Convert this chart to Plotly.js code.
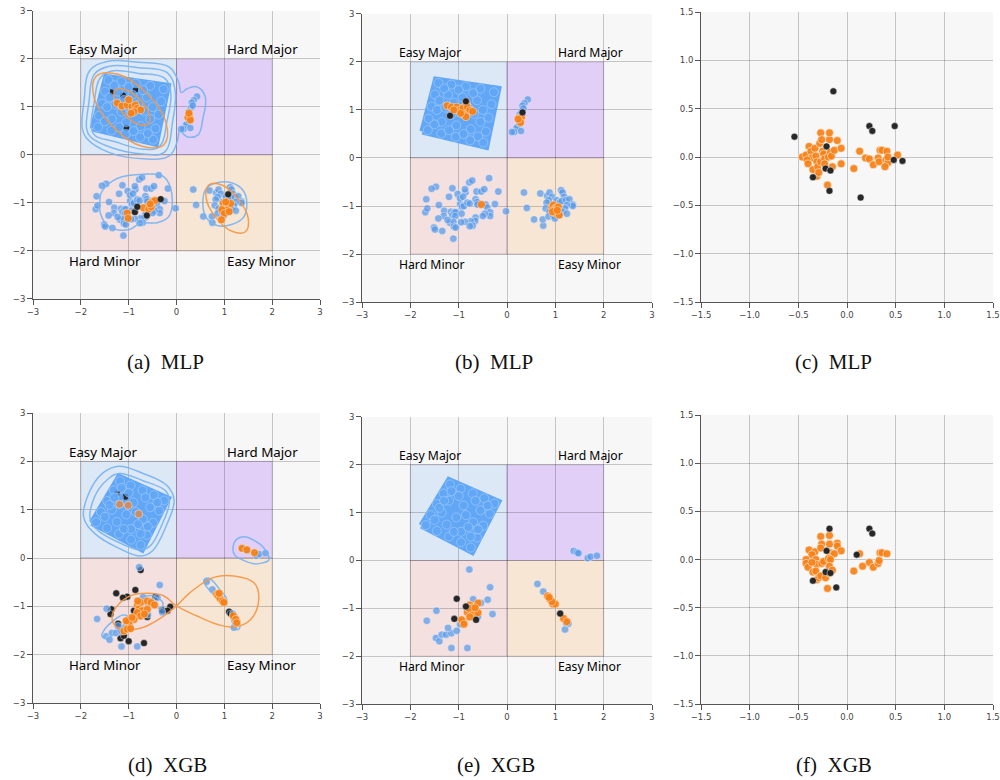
<!DOCTYPE html>
<html><head><meta charset="utf-8">
<script src="https://cdn.plot.ly/plotly-3.0.1.min.js"></script>
<style>html,body{margin:0;padding:0;background:#fff}#chart{width:1000px;height:780px}</style>
</head><body><div id="chart"></div>
<script>
// ---------------- quadrant regions ----------------
const QUAD_NAMES = ['Easy Major','Hard Major','Hard Minor','Easy Minor'];
const QUAD_X0 = [-2, 0, -2, 0];
const QUAD_X1 = [0, 2, 0, 2];
const QUAD_Y0 = [0, 0, -2, -2];
const QUAD_Y1 = [2, 2, 0, 0];
const QUAD_FILL = ['#dce8f6', '#e1cff7', '#f5e0e0', '#f7e6d4'];
const LABEL_X = [-2.28, 1.01, -2.28, 1.01];
const LABEL_Y = [2.2, 2.2, -2.21, -2.21];

// ---------------- panels (a)/(b): shared blue points ----------------
const abSquareX = [-1.75, -0.43, -0.18, -1.47, -1.75];
const abSquareY = [0.55, 0.23, 1.44, 1.63, 0.55];
const abBubbleX = [-1.64,-1.36,-1.06,-0.76,-0.49,-0.44,-0.38,-0.32,-0.27,-0.55,-0.85,-1.15,-1.42,-1.49,-1.56,-1.62,-1.35,-1.05,-0.75,-1.28,-0.98,-0.68,-1.22,-0.92,-0.62,-0.55,-1.45,-0.80,-1.15,-1.50,-1.20,-0.90,-0.60,-1.40,-1.10,-0.50,-1.30,-0.70,-1.00];
const abBubbleY = [0.58,0.51,0.44,0.37,0.32,0.55,0.84,1.12,1.37,1.44,1.49,1.53,1.56,1.32,1.07,0.82,0.75,0.68,0.60,1.05,0.98,0.92,1.32,1.26,1.20,0.75,1.00,1.05,0.90,0.70,0.58,0.50,0.45,1.20,1.15,1.00,1.45,1.35,1.42];
const abBlueX = [-1.47,-1.56,-1.67,-1.69,-1.65,-1.41,-1.30,-1.31,-1.42,-1.51,-1.49,-1.34,
  -1.20,-1.13,-1.02,-0.86,-0.87,-0.78,-0.72,-0.63,-0.53,-0.47,-0.37,-0.18,
  -1.16,-1.13,-1.09,-1.06,-0.97,-0.93,-0.89,-0.97,-0.91,-0.82,-0.77,-0.65,-0.62,-0.61,-0.44,-0.41,-0.25,-0.02,
  -0.35,-0.35,-0.46,-0.50,-0.65,-0.66,-0.75,-0.87,-0.95,-1.07,-1.18,-1.11,-1.10,-1.06,-1.11,-0.71,-0.77,-1.23,-0.94,
  0.35,0.41,0.56,0.69,0.75,0.74,0.83,0.88,0.93,0.86,0.82,0.80,0.88,0.86,0.96,0.99,0.96,1.03,1.09,1.12,1.15,1.18,1.13,1.22,1.29,1.36,1.36,1.24,1.20,1.15,1.24,1.09,1.03,
  0.43,0.36,0.32,0.30,0.26,0.23,0.20,0.15,0.10,0.29,0.26,0.34];
const abBlueY = [-0.60,-0.64,-0.86,-1.13,-1.05,-0.98,-1.10,-1.21,-1.26,-1.45,-1.49,-1.52,
  -0.81,-0.63,-0.75,-0.72,-0.65,-0.51,-0.47,-0.70,-0.70,-0.65,-0.42,-0.70,
  -1.12,-1.19,-1.13,-1.13,-0.96,-1.02,-1.00,-0.84,-0.81,-0.93,-0.95,-0.86,-0.92,-0.97,-0.97,-1.03,-0.96,-1.11,
  -1.13,-1.21,-1.16,-1.21,-1.24,-1.31,-1.32,-1.33,-1.34,-1.21,-1.35,-1.33,-1.43,-1.45,-1.68,-1.41,-1.42,-1.29,-1.16,
  -0.72,-1.04,-1.28,-0.74,-1.41,-1.28,-0.79,-0.72,-0.81,-0.88,-0.93,-1.05,-1.12,-1.22,-1.20,-1.26,-0.98,-0.88,-0.93,-0.67,-0.72,-0.81,-0.90,-0.88,-0.86,-0.97,-1.00,-0.98,-1.05,-1.12,-1.16,-1.19,-1.02,
  1.22,1.14,1.09,0.98,0.90,0.65,0.63,0.54,0.54,0.56,0.72,1.03];

// (a) MLP
const aOrangeX = [-1.24,-1.14,-1.03,-0.93,-0.86,-0.82,-0.75,-0.89,-0.95,-1.00, 0.27,0.24,0.29,0.26,
  -1.03,-1.01,-0.69,-0.58,-0.53,-0.50,-0.45,-0.55, 0.98,1.03,1.08,1.13,1.05,0.95,1.00,0.94,1.10,1.03];
const aOrangeY = [1.08,1.02,1.04,1.01,1.04,0.97,0.94,0.90,0.87,1.15, 0.83,0.78,0.73,0.87,
  -1.21,-1.32,-1.10,-1.13,-1.08,-0.97,-0.95,-1.02, -1.01,-1.08,-1.03,-1.01,-1.15,-1.14,-1.22,-1.35,-1.18,-0.98];
const aBlackX = [-0.87,-0.82,-0.62,-0.33,1.08];
const aBlackY = [-1.19,-1.08,-1.26,-0.92,-0.82];
const aBlackSmallX = [-1.12,-1.05,-0.86,-1.34];
const aBlackSmallY = [1.24,0.57,1.36,1.31];
// (a) density contours
const aBlue1X = [-1.78,-1.72,-1.60,-1.35,-0.80,-0.25,-0.12,-0.20,-0.35,-0.70,-1.30,-1.70,-1.78];
const aBlue1Y = [0.55,1.10,1.60,1.75,1.70,1.60,1.30,0.70,0.18,0.12,0.28,0.40,0.55];
const aBlue2X = [-1.88,-1.83,-1.72,-1.40,-0.80,-0.20,-0.03,-0.08,-0.25,-0.70,-1.35,-1.80,-1.88];
const aBlue2Y = [0.55,1.10,1.68,1.85,1.82,1.72,1.35,0.70,0.06,0.02,0.15,0.38,0.55];
const aBlue3X = [-1.97,-1.93,-1.82,-1.45,-0.80,-0.15,0.05,0.10,0.22,0.42,0.60,0.55,0.45,0.22,0.07,0.02,-0.15,-0.70,-1.40,-1.88,-1.97];
const aBlue3Y = [0.55,1.15,1.75,1.95,1.93,1.83,1.50,1.30,1.38,1.42,1.22,0.75,0.42,0.38,0.50,0.30,-0.02,-0.08,0.05,0.35,0.55];
const aBlue4X = [-1.56,-1.24,-0.68,-0.27,-0.10,-0.16,-0.40,-0.75,-1.00,-1.42,-1.59,-1.60,-1.56];
const aBlue4Y = [-0.76,-0.49,-0.40,-0.45,-0.80,-1.28,-1.41,-1.42,-1.56,-1.49,-1.22,-0.94,-0.76];
const aBlue5X = [0.55,0.62,0.85,1.15,1.40,1.47,1.40,1.15,0.85,0.62,0.55];
const aBlue5Y = [-1.00,-0.70,-0.58,-0.58,-0.75,-1.00,-1.30,-1.45,-1.47,-1.30,-1.00];
const aOrange1X = [-0.26,-0.22,-0.62,-1.22,-1.68,-1.72,-1.32,-0.72,-0.26];
const aOrange1Y = [0.22,0.68,1.28,1.68,1.64,1.18,0.58,0.18,0.22];
const aOrange2X = [-0.58,-0.57,-0.77,-1.07,-1.28,-1.29,-1.09,-0.79,-0.58];
const aOrange2Y = [0.65,0.86,1.16,1.36,1.35,1.14,0.84,0.64,0.65];
const aOrange3X = [1.44,1.50,1.30,0.96,0.68,0.62,0.82,1.16,1.44];
const aOrange3Y = [-1.60,-1.32,-0.93,-0.63,-0.62,-0.90,-1.30,-1.59,-1.60];

// (b) MLP
const bOrangeX = [-1.24,-1.15,-1.04,-0.97,-0.91,-0.84,-0.82,-0.77,-0.71,-0.89,-0.85,-0.96,-1.10,
  0.26,0.30,0.28,0.23, -0.53, 0.93,0.96,1.00,1.03,1.06,0.97,1.01,1.08,0.94,1.04];
const bOrangeY = [1.09,1.06,1.06,1.00,1.04,1.14,1.06,0.99,0.97,0.90,0.86,0.93,1.00,
  0.84,0.85,0.74,0.81, -0.97, -1.02,-0.98,-1.05,-1.04,-1.02,-1.12,-1.15,-1.19,-1.12,-1.09];
const bBlackX = [-1.18,-0.85,0.32];
const bBlackY = [0.88,1.18,0.95];

// (c) MLP
const cBlackX = [-0.14,-0.54,0.23,0.26,0.49,0.48,0.57,-0.35,-0.22,-0.17,-0.18,0.14,-0.21];
const cBlackY = [0.68,0.21,0.32,0.27,0.32,-0.03,-0.04,-0.21,-0.12,-0.14,-0.35,-0.42,0.11];
const cOrangeX = [-0.46,-0.42,-0.39,-0.37,-0.36,-0.41,-0.40,-0.35,-0.33,-0.32,-0.31,-0.30,-0.31,-0.29,-0.28,-0.27,-0.26,-0.25,-0.27,-0.24,-0.23,-0.23,-0.19,-0.18,-0.18,-0.17,-0.16,-0.15,-0.13,-0.10,-0.06,-0.06,-0.20,
  0.07,0.13,0.19,0.23,0.27,0.32,0.33,0.34,0.36,0.41,0.40,0.42,0.42,0.39,0.52];
const cOrangeY = [0.00,0.02,0.11,0.06,-0.01,-0.03,-0.07,-0.13,0.09,0.01,-0.05,-0.10,-0.20,-0.16,0.14,0.25,0.18,0.06,-0.05,0.03,-0.02,-0.07,0.00,0.18,0.25,0.05,0.01,-0.10,0.07,0.17,0.09,-0.07,-0.29,
  -0.12,0.06,-0.01,-0.02,-0.08,-0.01,-0.05,0.07,0.07,0.06,-0.03,-0.06,0.00,-0.10,0.02];

// ---------------- panels (d)/(e): shared blue points ----------------
const deSquareX = [-1.77, -0.72, -0.18, -1.20, -1.77];
const deSquareY = [0.73, 0.18, 1.23, 1.68, 0.73];
const deBubbleX = [-1.68,-1.45,-1.20,-0.95,-0.75,-0.62,-0.49,-0.36,-0.26,-0.47,-0.71,-0.96,-1.18,-1.31,-1.45,-1.58,-1.25,-0.95,-0.75,-1.35,-1.05,-0.70,-1.20,-0.90,-0.55,-1.00,-1.10,-0.85,-1.50,-1.40,-0.40,-0.60,-1.15,-0.80,-1.30,-0.65];
const deBubbleY = [0.74,0.62,0.50,0.38,0.27,0.48,0.73,0.98,1.19,1.30,1.40,1.50,1.59,1.40,1.18,0.95,0.75,0.60,0.50,1.00,0.90,0.80,1.25,1.15,1.05,1.35,0.60,0.95,0.85,1.10,1.15,0.65,1.45,0.70,1.25,1.25];
const deBlueX = [-0.78,-0.35,-0.40,-0.54,-0.70,-0.30,-1.46,-1.66,-1.47,-1.40,-1.35,-1.26,-1.15,-1.22,-1.04,-1.15,-0.82,-0.97,-0.60,
  0.63,0.75,1.20,1.27,1.22, 1.38,1.45,1.48,1.67,1.73,1.86];
const deBlueY = [-0.19,-0.56,-0.82,-0.89,-0.81,-1.12,-1.05,-1.26,-1.62,-1.69,-1.55,-1.55,-1.52,-1.41,-1.47,-1.83,-1.83,-1.33,-1.17,
  -0.49,-0.65,-1.44,-1.32,-1.30, 0.20,0.17,0.15,0.05,0.08,0.10];

// (d) XGB
const dOrangeFadedX = [-1.19,-1.01,-0.79];
const dOrangeFadedY = [1.11,1.09,0.91];
const dOrangeX = [1.37,1.47,1.63,
  -0.82,-0.75,-0.61,-0.53,-0.46,-0.79,-0.72,-0.61,-0.82,-0.75,-0.67,-0.89,-1.00,-1.05,-1.10,-1.03,-0.96,-0.93,-0.81,
  0.84,0.87,0.91,0.96,0.99,0.89,1.19,1.24,1.26];
const dOrangeY = [0.20,0.17,0.11,
  -0.97,-0.92,-0.89,-0.92,-0.97,-1.06,-1.09,-1.06,-1.13,-1.20,-1.16,-1.27,-1.34,-1.30,-1.51,-1.47,-1.46,-1.23,-0.89,
  -0.75,-0.78,-0.83,-0.89,-0.92,-0.73,-1.20,-1.27,-1.34];
const dBlackX = [-0.75,-0.86,-1.26,-1.03,-1.12,-1.36,-1.38,-1.22,-1.17,-1.00,-0.68,-0.44,-0.30,-0.13,-0.61,-0.89,-0.19,-1.10,-1.07, 1.10,1.13];
const dBlackY = [-0.25,-0.66,-0.73,-0.80,-0.82,-1.06,-1.16,-1.36,-1.66,-1.72,-1.76,-0.80,-1.08,-1.01,-1.22,-1.09,-1.09,-1.61,-1.47, -1.11,-1.15];
const dBlackSmallX = [-1.24,-1.07];
const dBlackSmallY = [1.34,1.27];
// (d) density contours
const dBlue1X = [-1.94,-1.85,-1.55,-1.21,-0.70,-0.20,-0.05,-0.20,-0.50,-0.75,-1.20,-1.70,-1.94];
const dBlue1Y = [0.84,1.30,1.75,1.90,1.75,1.50,1.20,0.70,0.15,0.04,0.20,0.50,0.84];
const dBlue2X = [-1.80,-1.72,-1.45,-1.20,-0.70,-0.22,-0.15,-0.30,-0.55,-0.75,-1.20,-1.62,-1.80];
const dBlue2Y = [0.78,1.25,1.62,1.75,1.60,1.38,1.15,0.70,0.25,0.17,0.32,0.55,0.78];
const dBlue3X = [1.18,1.25,1.41,1.65,1.85,1.93,1.80,1.62,1.40,1.22,1.18];
const dBlue3Y = [0.19,0.38,0.44,0.35,0.18,-0.04,-0.10,-0.12,-0.05,0.06,0.19];
const dBlue4X = [-1.56,-1.52,-1.35,-1.12,-1.03,-1.06,-1.25,-1.45,-1.56];
const dBlue4Y = [-1.62,-1.50,-1.32,-1.18,-1.20,-1.32,-1.52,-1.66,-1.62];
const dBlue5X = [-0.72,-0.60,-0.40,-0.28,-0.32,-0.50,-0.68,-0.72];
const dBlue5Y = [-0.85,-0.78,-0.82,-0.95,-1.03,-1.00,-0.95,-0.85];
const dBlue6X = [0.58,0.68,0.88,1.05,1.03,0.92,0.72,0.60,0.58];
const dBlue6Y = [-0.45,-0.42,-0.62,-0.85,-0.95,-0.90,-0.70,-0.55,-0.45];
const dBlue7X = [1.12,1.20,1.30,1.32,1.25,1.18,1.12];
const dBlue7Y = [-1.12,-1.10,-1.30,-1.45,-1.48,-1.35,-1.12];
const dOrange1X = [0.00,0.29,0.78,1.20,1.62,1.72,1.55,1.20,0.85,0.43,0.00,-0.27,-0.61,-0.96,-1.24,-1.35,-1.24,-1.03,-0.61,-0.27,0.00];
const dOrange1Y = [-0.99,-0.71,-0.40,-0.37,-0.51,-0.85,-1.27,-1.43,-1.37,-1.20,-0.99,-0.78,-0.73,-0.78,-0.99,-1.23,-1.44,-1.49,-1.40,-1.20,-0.99];

// (e) XGB
const eOrangeX = [-0.77,-0.74,-0.82,-0.70,-0.60,-0.60,-0.77,-0.91,-0.94,-0.89,-0.79,-0.66, 0.84,0.89,0.95,1.00,0.93,1.17,1.24,0.87];
const eOrangeY = [-0.93,-0.99,-1.08,-1.12,-1.09,-0.89,-1.18,-1.28,-1.24,-1.33,-1.00,-0.99, -0.74,-0.81,-0.91,-0.91,-0.86,-1.21,-1.28,-0.77];
const eBlackX = [-1.04,-1.09,-0.85,-0.64,1.10];
const eBlackY = [-0.80,-1.22,-0.96,-1.24,-1.11];

// (f) XGB
const fBlackX = [-0.18,0.23,0.26,-0.21,0.10,-0.35,-0.22,-0.17,-0.11];
const fBlackY = [0.32,0.32,0.27,0.09,0.05,-0.22,-0.13,-0.14,-0.29];
const fOrangeX = [-0.27,-0.18,-0.26,-0.18,-0.10,-0.10,-0.06,-0.39,-0.33,-0.36,-0.27,-0.17,-0.13,-0.42,-0.42,-0.40,-0.32,-0.31,-0.26,-0.24,-0.19,-0.17,-0.18,-0.35,-0.32,-0.31,-0.29,-0.27,-0.22,-0.18,-0.15,-0.20,-0.36,
  0.07,0.13,0.16,0.23,0.27,0.32,0.33,0.34,0.36,0.41];
const fOrangeY = [0.24,0.25,0.16,0.16,0.17,0.14,0.09,0.10,0.08,0.05,0.12,0.07,0.06,0.00,-0.04,-0.08,0.00,-0.05,-0.04,-0.02,0.01,0.00,-0.07,-0.13,-0.12,-0.21,-0.19,-0.17,-0.19,-0.14,-0.11,-0.30,-0.03,
  -0.12,0.06,-0.07,-0.03,-0.08,-0.04,-0.01,0.07,0.07,0.06];

const CAPTIONS = ['(a)\u00a0\u00a0MLP','(b)\u00a0\u00a0MLP','(c)\u00a0\u00a0MLP','(d)\u00a0\u00a0XGB','(e)\u00a0\u00a0XGB','(f)\u00a0\u00a0XGB'];

// ---------------- styles ----------------
const BLUE = 'rgba(88,152,232,0.72)';
const SQ_BLUE = 'rgb(98,167,246)';
const ORANGE = 'rgba(246,128,22,0.92)';
const BLACK = 'rgba(28,28,28,0.95)';
const C_BLUE = 'rgba(120,178,240,0.9)';
const C_ORANGE = 'rgba(244,150,66,0.9)';

const PANELS = [
  {n:1, xd:[0.033,0.320], yd:[0.6167,0.9859], lim:3, quad:true, lab:13.3},
  {n:2, xd:[0.362,0.652], yd:[0.6128,0.9821], lim:3, quad:true, lab:12.2},
  {n:3, xd:[0.701,0.993], yd:[0.6128,0.9846], lim:1.5, quad:false},
  {n:4, xd:[0.033,0.320], yd:[0.0987,0.4705], lim:3, quad:true, lab:13.3},
  {n:5, xd:[0.362,0.652], yd:[0.0974,0.4654], lim:3, quad:true, lab:12.2},
  {n:6, xd:[0.701,0.993], yd:[0.0974,0.4679], lim:1.5, quad:false}
];
const CAP_X = [0.165, 0.494, 0.833, 0.167, 0.496, 0.834];
const CAP_Y = [0.536, 0.536, 0.536, 0.019, 0.019, 0.019];

const traces = [];
function ax(n){ return n === 1 ? ['x','y'] : ['x'+n, 'y'+n]; }
function pts(n, xs, ys, color, size, lw, lc){
  const a = ax(n);
  traces.push({type:'scatter', mode:'markers', x:xs, y:ys, xaxis:a[0], yaxis:a[1], hoverinfo:'skip',
    marker:{color:color, size:size, line:{color:lc || 'rgba(255,255,255,0.85)', width:lw}}});
}
function poly(n, xs, ys, color){
  const a = ax(n);
  traces.push({type:'scatter', mode:'lines', x:xs, y:ys, xaxis:a[0], yaxis:a[1], hoverinfo:'skip',
    fill:'toself', fillcolor:color, line:{color:color, width:6}});
}
function curve(n, xs, ys, color){
  const a = ax(n);
  traces.push({type:'scatter', mode:'lines', x:xs, y:ys, xaxis:a[0], yaxis:a[1], hoverinfo:'skip',
    line:{color:color, width:1.5, shape:'spline', smoothing:1.1}});
}
const BUB_LINE = 'rgba(225,238,255,0.55)';

// (a)
poly(1, abSquareX, abSquareY, SQ_BLUE);
pts(1, aBlackSmallX, aBlackSmallY, BLACK, 6, 0);
pts(1, abBubbleX, abBubbleY, 'rgba(98,167,246,0.75)', 9, 0.6, BUB_LINE);
pts(1, abBlueX, abBlueY, BLUE, 7.5, 0.5);
curve(1, aBlue1X, aBlue1Y, C_BLUE);
curve(1, aBlue2X, aBlue2Y, C_BLUE);
curve(1, aBlue3X, aBlue3Y, C_BLUE);
curve(1, aBlue4X, aBlue4Y, C_BLUE);
curve(1, aBlue5X, aBlue5Y, C_BLUE);
curve(1, aOrange1X, aOrange1Y, C_ORANGE);
curve(1, aOrange2X, aOrange2Y, C_ORANGE);
curve(1, aOrange3X, aOrange3Y, C_ORANGE);
pts(1, aOrangeX, aOrangeY, ORANGE, 8, 0.5);
pts(1, aBlackX, aBlackY, BLACK, 7, 0.5);
// (b)
poly(2, abSquareX, abSquareY, SQ_BLUE);
pts(2, abBubbleX, abBubbleY, 'rgba(98,167,246,0.75)', 9, 0.6, BUB_LINE);
pts(2, abBlueX, abBlueY, BLUE, 7.5, 0.5);
pts(2, bOrangeX, bOrangeY, ORANGE, 8, 0.5);
pts(2, bBlackX, bBlackY, BLACK, 7, 0.5);
// (c)
pts(3, cOrangeX, cOrangeY, ORANGE, 8, 0.6);
pts(3, cBlackX, cBlackY, BLACK, 7, 0.6);
// (d)
poly(4, deSquareX, deSquareY, SQ_BLUE);
pts(4, dBlackSmallX, dBlackSmallY, BLACK, 6, 0);
pts(4, deBubbleX, deBubbleY, 'rgba(98,167,246,0.75)', 9, 0.6, BUB_LINE);
pts(4, dOrangeFadedX, dOrangeFadedY, 'rgba(205,140,95,0.95)', 8, 0.5);
curve(4, dBlue1X, dBlue1Y, C_BLUE);
curve(4, dBlue2X, dBlue2Y, C_BLUE);
pts(4, dBlackX, dBlackY, BLACK, 7, 0.5);
pts(4, deBlueX, deBlueY, BLUE, 7.5, 0.5);
curve(4, dBlue3X, dBlue3Y, C_BLUE);
curve(4, dBlue4X, dBlue4Y, C_BLUE);
curve(4, dBlue5X, dBlue5Y, C_BLUE);
curve(4, dBlue6X, dBlue6Y, C_BLUE);
curve(4, dBlue7X, dBlue7Y, C_BLUE);
curve(4, dOrange1X, dOrange1Y, C_ORANGE);
pts(4, dOrangeX, dOrangeY, ORANGE, 8, 0.5);
// (e)
poly(5, deSquareX, deSquareY, SQ_BLUE);
pts(5, deBubbleX, deBubbleY, 'rgba(98,167,246,0.75)', 9, 0.6, BUB_LINE);
pts(5, deBlueX, deBlueY, BLUE, 7.5, 0.5);
pts(5, eOrangeX, eOrangeY, ORANGE, 8, 0.5);
pts(5, eBlackX, eBlackY, BLACK, 7, 0.5);
// (f)
pts(6, fOrangeX, fOrangeY, ORANGE, 8, 0.6);
pts(6, fBlackX, fBlackY, BLACK, 7, 0.6);

const layout = {
  width:1000, height:780, margin:{l:0,r:0,t:0,b:0},
  paper_bgcolor:'#ffffff', plot_bgcolor:'#f7f7f7', showlegend:false,
  font:{family:'DejaVu Sans, sans-serif', size:9, color:'#444'},
  shapes:[], annotations:[]
};
PANELS.forEach((p, i) => {
  const sx = p.n === 1 ? '' : String(p.n);
  const common = {range:[-p.lim, p.lim], dtick: p.lim === 3 ? 1 : 0.5, tick0:0,
    tickformat: p.lim === 3 ? 'd' : '.1f', showgrid:true, gridcolor:'rgba(0,0,0,0.2)', gridwidth:1,
    zeroline:false, showline:true, linecolor:'#555', linewidth:1, mirror:false,
    ticks:'outside', ticklen:5, tickcolor:'#555', tickfont:{family:'DejaVu Sans, sans-serif', size:8.5, color:'#444'},
    fixedrange:true};
  layout['xaxis'+sx] = Object.assign({}, common, {domain:p.xd, anchor:'y'+sx});
  layout['yaxis'+sx] = Object.assign({}, common, {domain:p.yd, anchor:'x'+sx});
  if (p.quad) {
    for (let q = 0; q < 4; q++) {
      layout.shapes.push({type:'rect', xref:'x'+sx, yref:'y'+sx, layer:'below',
        x0:QUAD_X0[q], x1:QUAD_X1[q], y0:QUAD_Y0[q], y1:QUAD_Y1[q],
        fillcolor:QUAD_FILL[q], line:{color:'rgba(80,60,90,0.22)', width:1}});
      layout.annotations.push({xref:'x'+sx, yref:'y'+sx, x:LABEL_X[q], y:LABEL_Y[q],
        xanchor:'left', yanchor:'middle', showarrow:false, text:QUAD_NAMES[q],
        font:{family:'Noto Sans, DejaVu Sans, sans-serif', size:p.lab, color:'#000'}});
    }
  }
  layout.annotations.push({xref:'paper', yref:'paper', x:CAP_X[i], y:CAP_Y[i], xanchor:'center', yanchor:'middle',
    showarrow:false, text:CAPTIONS[i], font:{family:'Liberation Serif, DejaVu Serif, serif', size:21, color:'#111'}});
});

Plotly.newPlot('chart', traces, layout, {displayModeBar:false, staticPlot:true});
</script>
</body></html>
